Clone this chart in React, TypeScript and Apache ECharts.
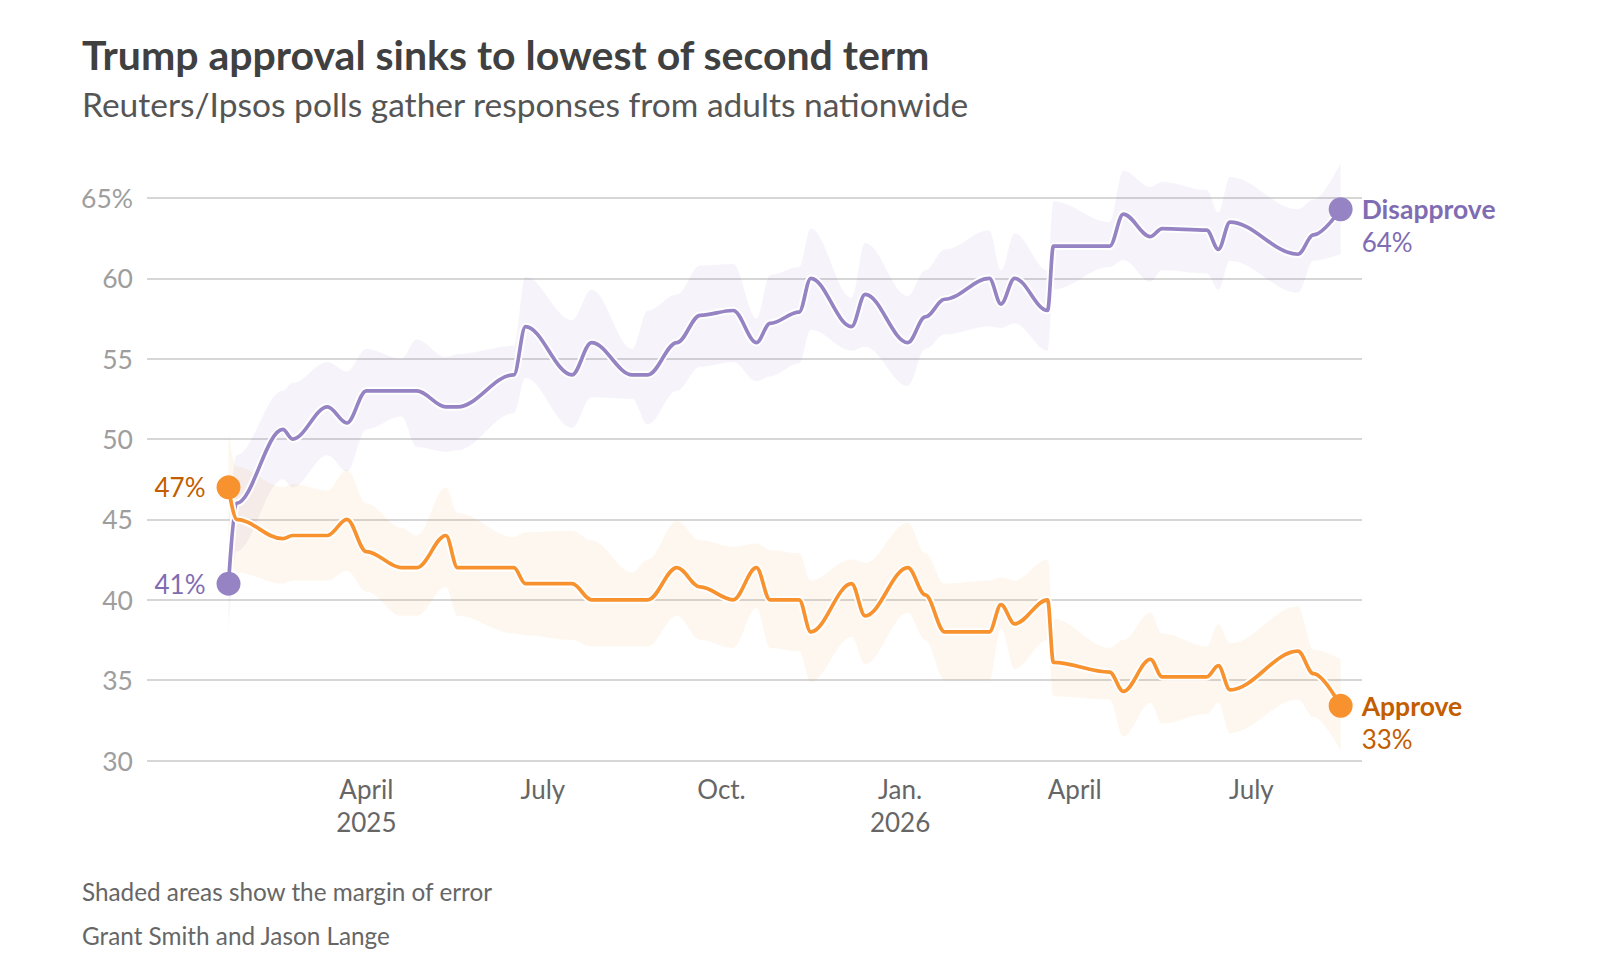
import React, { useEffect, useRef } from "react";
import * as echarts from "echarts";

// ---- Data ----
const pollDates = [
  "2025-01-20", "2025-01-24", "2025-02-17", "2025-02-22", "2025-03-12", "2025-03-22",
  "2025-04-01", "2025-04-19", "2025-04-27", "2025-05-12", "2025-05-18", "2025-06-16",
  "2025-06-22", "2025-07-16", "2025-07-26", "2025-08-16", "2025-08-24", "2025-09-08",
  "2025-09-20", "2025-10-07", "2025-10-19", "2025-10-26", "2025-11-10", "2025-11-16",
  "2025-12-07", "2025-12-14", "2026-01-05", "2026-01-14", "2026-01-24", "2026-02-16",
  "2026-02-22", "2026-03-01", "2026-03-18", "2026-03-21", "2026-04-19", "2026-04-26",
  "2026-05-10", "2026-05-16", "2026-06-08", "2026-06-14", "2026-06-20", "2026-07-25",
  "2026-08-02", "2026-08-16",
];

const approve = [
  47, 45, 43.8, 44, 44, 45, 43, 42, 42, 44, 42, 42, 41, 41, 40, 40, 40, 42, 40.8, 40, 42, 40,
  40, 38, 41, 39, 42, 40.3, 38, 38, 39.7, 38.5, 40, 36.1, 35.5, 34.3, 36.3, 35.2, 35.2, 35.9,
  34.4, 36.8, 35.4, 33.4,
];
const approveLow = [
  44.0, 41.7, 41.0, 41.2, 41.2, 41.8, 40.5, 39.0, 39.0, 40.8, 39.0, 37.9, 37.8, 37.5, 37.1,
  37.1, 37.1, 39.0, 37.5, 37.0, 39.5, 37.0, 36.8, 34.9, 37.7, 36.0, 39.2, 37.5, 35.0, 35.0,
  38.2, 35.7, 37.5, 34.0, 33.8, 31.5, 33.6, 32.3, 32.9, 33.6, 31.7, 33.8, 32.7, 30.6,
];
const approveHigh = [
  50.4, 48.3, 47.0, 47.2, 46.8, 48.1, 46.0, 44.5, 44.0, 47.0, 45.4, 43.9, 44.2, 44.3, 43.7,
  41.7, 42.5, 44.9, 43.7, 43.3, 43.5, 43.1, 42.9, 41.2, 42.5, 42.3, 44.8, 42.9, 41.0, 41.2,
  41.4, 41.2, 42.5, 38.8, 37.0, 37.5, 39.2, 37.9, 37.1, 38.5, 37.3, 39.6, 36.9, 36.3,
];

const disapprove = [
  41, 46, 50.6, 50, 52, 51, 53, 53, 53, 52, 52, 54, 57, 54, 56, 54, 54, 56, 57.7, 58, 56, 57.2,
  57.9, 60, 57, 59, 56, 57.6, 58.7, 60, 58.4, 60, 58, 62, 62, 64, 62.6, 63.1, 63, 61.8, 63.5,
  61.5, 62.7, 64.3,
];
const disapproveLow = [
  38.0, 43.0, 47.5, 47.0, 49.0, 48.0, 50.6, 51.4, 49.5, 49.2, 49.3, 51.6, 53.8, 50.7, 52.6,
  52.5, 50.9, 53.0, 54.5, 54.8, 53.6, 53.9, 54.7, 56.8, 55.5, 55.75, 53.3, 55.6, 56.5, 57.0,
  56.9, 57.2, 55.5, 59.3, 60.7, 61.15, 59.8, 60.5, 60.3, 59.3, 61.1, 59.1, 61.1, 61.5,
];
const disapproveHigh = [
  44.5, 49.0, 53.0, 53.5, 54.8, 54.2, 55.6, 55.0, 56.2, 55.1, 55.3, 55.8, 60.1, 57.4, 59.3,
  55.6, 58.0, 59.0, 60.8, 60.9, 57.5, 60.2, 60.7, 63.1, 58.8, 62.2, 58.9, 60.5, 61.8, 63.0,
  60.5, 62.8, 60.5, 64.8, 63.5, 66.7, 65.7, 66.0, 65.5, 64.1, 66.3, 64.3, 64.9, 67.2,
];

const xTickDates = ["2025-04-01", "2025-07-01", "2025-10-01", "2026-01-01", "2026-04-01", "2026-07-01"];
const xTickLabels = ["April\n2025", "July", "Oct.", "Jan.\n2026", "April", "July"];
const axisStart = "2024-12-09";
const axisEnd = "2026-08-27";
const yMin = 30;
const yMax = 65;
const yStep = 5;

const titleText = "Trump approval sinks to lowest of second term";
const subtitleText = "Reuters/Ipsos polls gather responses from adults nationwide";
const noteText = "Shaded areas show the margin of error";
const creditText = "Grant Smith and Jason Lange";

// ---- Styles ----
const FONT = 'Lato, "Noto Sans", sans-serif';
const PURPLE = "#9683c4";
const ORANGE = "#f7922e";
const PURPLE_TEXT = "#7f6cb3";
const ORANGE_TEXT = "#c25d00";

function ts(s: string): number {
  const [y, m, d] = s.split("-").map(Number);
  return Date.UTC(y, m - 1, d);
}

const pairs = (vals: number[]) => pollDates.map((d, i) => [ts(d), vals[i]]);
const diffs = (hi: number[], lo: number[]) =>
  pollDates.map((d, i) => [ts(d), +(hi[i] - lo[i]).toFixed(3)]);

const SMOOTH = 0.35;

function bandSeries(stack: string, lo: number[], hi: number[], color: string, z: number) {
  return [
    {
      type: "line",
      stack,
      data: pairs(lo),
      smooth: SMOOTH,
      smoothMonotone: "x",
      symbol: "none",
      silent: true,
      clip: false,
      lineStyle: { opacity: 0 },
      z,
    },
    {
      type: "line",
      stack,
      data: diffs(hi, lo),
      smooth: SMOOTH,
      smoothMonotone: "x",
      symbol: "none",
      silent: true,
      clip: false,
      lineStyle: { opacity: 0 },
      areaStyle: { color, opacity: 1 },
      z,
    },
  ];
}

function lineSeries(name: string, vals: number[], color: string, z: number) {
  return [
    {
      type: "line",
      data: pairs(vals),
      smooth: SMOOTH,
      smoothMonotone: "x",
      symbol: "none",
      silent: true,
      clip: false,
      lineStyle: { color: "#ffffff", width: 7.5 },
      z,
    },
    {
      name,
      type: "line",
      data: pairs(vals),
      smooth: SMOOTH,
      smoothMonotone: "x",
      symbol: "none",
      silent: true,
      clip: false,
      lineStyle: { color, width: 3.7 },
      z: z + 1,
    },
  ];
}

function dotSeries(name: string, vals: number[], color: string, textColor: string) {
  const last = vals.length - 1;
  return {
    type: "scatter",
    symbolSize: 24,
    itemStyle: { color, opacity: 1 },
    silent: true,
    clip: false,
    z: 20,
    data: [
      {
        value: [ts(pollDates[0]), vals[0]],
        label: {
          show: true,
          position: "left",
          distance: 11,
          formatter: `${Math.round(vals[0])}%`,
          fontFamily: FONT,
          fontSize: 26,
          color: textColor,
        },
      },
      {
        value: [ts(pollDates[last]), vals[last]],
        label: {
          show: true,
          position: "right",
          distance: 9,
          offset: [0, 16.5],
          formatter: `{n|${name}}\n{v|${Math.round(vals[last])}%}`,
          rich: {
            n: { fontFamily: FONT, fontSize: 26.5, fontWeight: "bold", color: textColor, lineHeight: 33 },
            v: { fontFamily: FONT, fontSize: 26, color: textColor, lineHeight: 33 },
          },
        },
      },
    ],
  };
}

export default function App() {
  const ref = useRef<HTMLDivElement>(null);

  useEffect(() => {
    if (!ref.current) return;
    const chart = echarts.init(ref.current, undefined, { renderer: "svg" });
    const tickTs = xTickDates.map(ts);
    const option: any = {
      animation: false,
      backgroundColor: "#ffffff",
      textStyle: { fontFamily: FONT },
      grid: { left: 147, right: 256, top: 198, bottom: 207.5, containLabel: false },
      xAxis: [
        {
          type: "time",
          min: ts(axisStart),
          max: ts(axisEnd),
          axisLine: { show: false },
          axisTick: { show: false },
          axisLabel: { show: false },
          splitLine: { show: false },
        },
        {
          type: "value",
          position: "bottom",
          min: ts(axisStart),
          max: ts(axisEnd),
          axisLine: { show: false },
          axisTick: { show: false },
          splitLine: { show: false },
          axisLabel: {
            customValues: tickTs,
            margin: 12,
            fontFamily: FONT,
            fontSize: 26,
            lineHeight: 33,
            color: "#666666",
            formatter: (val: number) => {
              const i = tickTs.indexOf(val);
              return i >= 0 ? xTickLabels[i] : "";
            },
          },
        },
      ],
      yAxis: {
        type: "value",
        min: yMin,
        max: yMax,
        interval: yStep,
        axisLine: { show: false },
        axisTick: { show: false },
        splitLine: { lineStyle: { color: "#c9c9c9", width: 1.6 } },
        axisLabel: {
          margin: 14,
          fontFamily: FONT,
          fontSize: 26.5,
          color: "#9e9e9e",
          formatter: (v: number) => (v === yMax ? `${v}%` : `${v}`),
        },
      },
      graphic: [
        {
          type: "text",
          left: 82,
          top: 34,
          style: { text: titleText, font: `bold 41px ${FONT}`, fill: "#404040" },
        },
        {
          type: "text",
          left: 82,
          top: 87,
          style: { text: subtitleText, font: `33.5px ${FONT}`, fill: "#555555" },
        },
        {
          type: "text",
          left: 82,
          top: 879,
          style: { text: noteText, font: `24.3px ${FONT}`, fill: "#666666" },
        },
        {
          type: "text",
          left: 82,
          top: 923,
          style: { text: creditText, font: `24.3px ${FONT}`, fill: "#666666" },
        },
      ],
      series: [
        ...bandSeries("dBand", disapproveLow, disapproveHigh, "rgba(150,131,196,0.085)", 1),
        ...bandSeries("aBand", approveLow, approveHigh, "rgba(247,146,46,0.075)", 1),
        ...lineSeries("Disapprove", disapprove, PURPLE, 3),
        ...lineSeries("Approve", approve, ORANGE, 5),
        dotSeries("Disapprove", disapprove, PURPLE, PURPLE_TEXT),
        dotSeries("Approve", approve, ORANGE, ORANGE_TEXT),
      ],
    };
    chart.setOption(option);
    return () => chart.dispose();
  }, []);

  return (
    <div
      ref={ref}
      style={{ position: "absolute", left: 0, top: 0, width: 1618, height: 968, background: "#fff" }}
    />
  );
}
